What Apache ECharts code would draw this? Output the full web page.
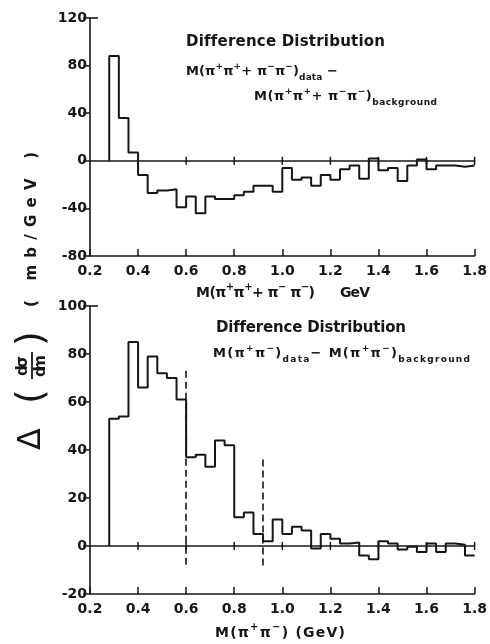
<!DOCTYPE html>
<html><head><meta charset="utf-8">
<script src="https://cdn.jsdelivr.net/npm/echarts@6/dist/echarts.min.js"></script>
<style>html,body{margin:0;padding:0;background:#fff}#c{width:490px;height:644px}</style>
</head><body><div id="c"></div>
<script>
// ---------- data ----------
const binStart = 0.28;
const binWidth = 0.04;
const xTickValues = [0.2, 0.4, 0.6, 0.8, 1.0, 1.2, 1.4, 1.6, 1.8];
const topYRange = [-80, 120];
const topYInterval = 40;
const bottomYRange = [-20, 100];
const bottomYInterval = 20;
// top: M(pi+pi+ + pi-pi-) data - background  (mb/GeV), bins of 0.04 GeV from 0.28
const topValues = [88, 36, 7, -12, -27, -25, -24, -39, -30, -44,
  -30, -32, -32, -29, -26, -21, -21, -26, -6, -16,
  -14, -21, -12, -16, -7, -4, -15, 2, -8, -6,
  -17, -4, 1, -7, -4, -4, -5, -4];
// bottom: M(pi+pi-) data - background
const bottomValues = [53, 54, 85, 66, 79, 72, 70, 61, 37, 38,
  33, 44, 42, 12, 14, 5, 2, 11, 5, 8,
  6.5, -1, 5, 3, 1, 1.5, -4, -5.5, 2, 1,
  -1.5, -0.3, -2.5, 1, -2.5, 1, 0.5, -4];
// dashed markers in bottom panel: x position, top, bottom
const dashX = [0.6, 0.92];
const dashTop = [73, 36];
const dashBottom = [-8, -9];

// ---------- helpers ----------
const INK = '#161616';
const FONT = 'DejaVu Sans';
function stepData(values) {
  const d = [[binStart, 0]];
  values.forEach((v, i) => d.push([+(binStart + i * binWidth).toFixed(2), v]));
  d.push([+(binStart + values.length * binWidth).toFixed(2), values[values.length - 1]]);
  return d;
}
const mctx = document.createElement('canvas').getContext('2d');
function run(parts, o) {
  const size = o.size, small = Math.round(size * 0.72);
  const weight = o.weight || 'bold';
  const items = [];
  for (const [t, kind] of parts) {
    const s = kind === 'n' ? size : small;
    const dy = kind === 'sup' ? -size * 0.42 : kind === 'sub' ? size * 0.42 : 0;
    mctx.font = weight + ' ' + s + 'px "' + FONT + '"';
    for (const ch of t) items.push({ch, s, dy, w: mctx.measureText(ch).width});
  }
  const natural = items.reduce((a, b) => a + b.w, 0);
  const ls = o.width ? (o.width - natural) / Math.max(1, items.length - 1) : (o.ls || 0);
  let cx = 0;
  return items.map(it => {
    const el = {type: 'text', x: o.x + cx, y: o.y + it.dy, silent: true,
      style: {text: it.ch, fontSize: it.s, fontFamily: FONT, fontWeight: weight, fill: INK,
        verticalAlign: 'middle', align: 'left'}};
    cx += it.w + ls;
    return el;
  });
}
const tickLabel = {fontFamily: FONT, fontWeight: 'bold', fontSize: 14, color: INK};

function xAxisFor(grid) {
  return {gridIndex: grid, type: 'value', min: xTickValues[0], max: xTickValues[xTickValues.length - 1],
    interval: 0.2,
    axisLine: {show: true, onZero: false, lineStyle: {color: INK, width: 1.6}},
    axisTick: {show: true, inside: true, length: 7, lineStyle: {color: INK, width: 1.5}},
    axisLabel: Object.assign({margin: 8, formatter: v => v.toFixed(1)}, tickLabel),
    splitLine: {show: false}};
}
function yAxisFor(grid, range, interval) {
  return {gridIndex: grid, type: 'value', min: range[0], max: range[1], interval: interval,
    axisLine: {show: true, onZero: false, lineStyle: {color: INK, width: 1.6}},
    axisTick: {show: true, inside: false, length: 7, lineStyle: {color: INK, width: 1.5}},
    axisLabel: Object.assign({margin: 3}, tickLabel),
    splitLine: {show: false}};
}
function zeroTicks(axisIdx) {
  return {type: 'custom', xAxisIndex: axisIdx, yAxisIndex: axisIdx, clip: false, silent: true, z: 3,
    data: xTickValues.slice(1).map(v => [v, 0]),
    renderItem: (p, api) => {
      const c = api.coord([api.value(0), 0]);
      return {type: 'line', shape: {x1: c[0], y1: c[1] - 4, x2: c[0], y2: c[1] + 4},
        style: {stroke: INK, lineWidth: 1.5}};
    }};
}
function topCap(axisIdx, yMax) {
  return {type: 'custom', xAxisIndex: axisIdx, yAxisIndex: axisIdx, clip: false, silent: true,
    data: [[xTickValues[0], yMax]],
    renderItem: (p, api) => {
      const c = api.coord([api.value(0), api.value(1)]);
      return {type: 'line', shape: {x1: c[0], y1: c[1], x2: c[0] + 8, y2: c[1]},
        style: {stroke: INK, lineWidth: 1.6}};
    }};
}

// ---------- texts ----------
const texts = [];
texts.push(...run([['Difference Distribution', 'n']], {x: 186, y: 42, size: 15, width: 199}));
texts.push(...run([['M(π', 'n'], ['+', 'sup'], ['π', 'n'], ['+', 'sup'], ['+ π', 'n'], ['−', 'sup'], ['π', 'n'], ['−', 'sup'], [')', 'n'], ['data', 'sub'], [' −', 'n']],
  {x: 186, y: 72, size: 13, width: 152}));
texts.push(...run([['M(π', 'n'], ['+', 'sup'], ['π', 'n'], ['+', 'sup'], ['+ π', 'n'], ['−', 'sup'], ['π', 'n'], ['−', 'sup'], [')', 'n'], ['background', 'sub']],
  {x: 254, y: 97, size: 13, width: 183}));
texts.push(...run([['M(π', 'n'], ['+', 'sup'], ['π', 'n'], ['+', 'sup'], ['+ π', 'n'], ['−', 'sup'], [' π', 'n'], ['−', 'sup'], [')', 'n']],
  {x: 196, y: 293, size: 14, width: 119}));
texts.push(...run([['GeV', 'n']], {x: 340, y: 293, size: 14, width: 30}));
texts.push(...run([['Difference Distribution', 'n']], {x: 216, y: 328, size: 15, width: 190}));
texts.push(...run([['M(π', 'n'], ['+', 'sup'], ['π', 'n'], ['−', 'sup'], [')', 'n'], ['data', 'sub'], ['− M(π', 'n'], ['+', 'sup'], ['π', 'n'], ['−', 'sup'], [')', 'n'], ['background', 'sub']],
  {x: 213, y: 354, size: 13, width: 257}));
texts.push(...run([['M(π', 'n'], ['+', 'sup'], ['π', 'n'], ['−', 'sup'], [') (GeV)', 'n']],
  {x: 215, y: 633, size: 14, width: 130}));

// rotated y-axis title
const yTitle = [];
yTitle.push(...run([['Δ', 'n']], {x: 2, y: 0, size: 32, weight: 'normal'}));
yTitle.push(...run([['(', 'n']], {x: 48, y: 0, size: 38, weight: 'normal'}));
yTitle.push(...run([['dσ', 'n']], {x: 76, y: -9, size: 15, width: 20}));
yTitle.push({type: 'line', silent: true, shape: {x1: 73, y1: 0, x2: 100, y2: 0}, style: {stroke: INK, lineWidth: 1.8}});
yTitle.push(...run([['dm', 'n']], {x: 75, y: 9, size: 15, width: 22}));
yTitle.push(...run([[')', 'n']], {x: 106, y: 0, size: 38, weight: 'normal'}));
yTitle.push(...run([['( mb/GeV )', 'n']], {x: 145, y: 0, size: 15, width: 155}));
texts.push({type: 'group', x: 32, y: 452, rotation: Math.PI / 2, children: yTitle});

// ---------- chart ----------
const chart = echarts.init(document.getElementById('c'), null, {renderer: 'canvas'});
chart.setOption({
  animation: false,
  backgroundColor: '#fff',
  grid: [
    {left: 90, right: 14, top: 18, height: 238},
    {left: 90, right: 14, top: 306, height: 288}
  ],
  xAxis: [xAxisFor(0), xAxisFor(1)],
  yAxis: [yAxisFor(0, topYRange, topYInterval), yAxisFor(1, bottomYRange, bottomYInterval)],
  series: [
    {type: 'line', xAxisIndex: 0, yAxisIndex: 0, step: 'end', symbol: 'none', silent: true,
      data: stepData(topValues), lineStyle: {color: INK, width: 2}, z: 4,
      markLine: {symbol: ['none', 'none'], silent: true, label: {show: false},
        lineStyle: {color: INK, type: 'solid', width: 1.5}, data: [{yAxis: 0}]}},
    {type: 'line', xAxisIndex: 1, yAxisIndex: 1, step: 'end', symbol: 'none', silent: true,
      data: stepData(bottomValues), lineStyle: {color: INK, width: 2}, z: 4,
      markLine: {symbol: ['none', 'none'], silent: true, label: {show: false},
        lineStyle: {color: INK, type: 'solid', width: 1.5},
        data: [{yAxis: 0}].concat(dashX.map((x, i) => [
          {coord: [x, dashTop[i]], lineStyle: {type: [7, 4], width: 1.6, color: INK}},
          {coord: [x, dashBottom[i]]}]))}},
    zeroTicks(0), zeroTicks(1),
    topCap(0, topYRange[1]), topCap(1, bottomYRange[1])
  ],
  graphic: texts
});
</script>
</body></html>
